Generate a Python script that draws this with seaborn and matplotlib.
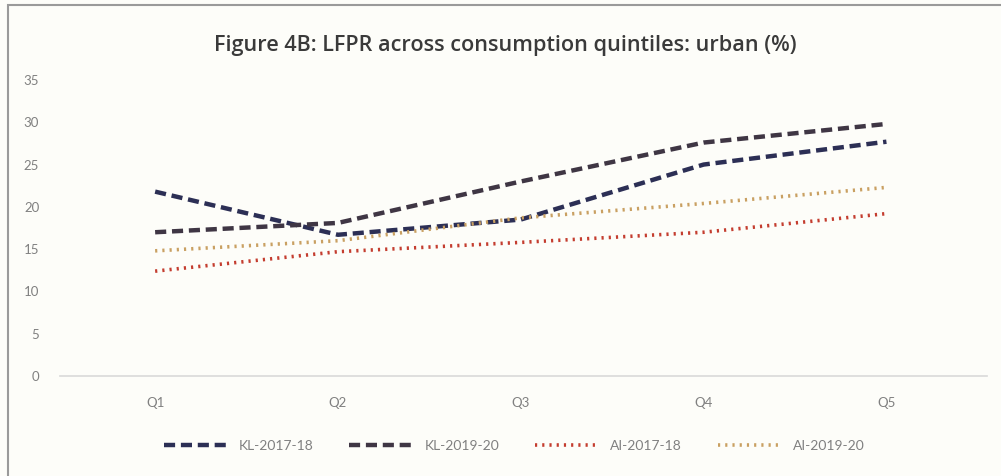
import pandas as pd
import numpy as np
import matplotlib
matplotlib.use('Agg')
import matplotlib.pyplot as plt
import seaborn as sns
from matplotlib.patches import Rectangle

# Data
quintiles = ['Q1', 'Q2', 'Q3', 'Q4', 'Q5']
kl_2017 = [21.8, 16.7, 18.5, 25.0, 27.7]
kl_2019 = [17.0, 18.1, 23.0, 27.6, 29.8]
ai_2017 = [12.4, 14.7, 15.8, 17.0, 19.2]
ai_2019 = [14.8, 16.0, 18.7, 20.4, 22.3]
series_names = ['KL-2017-18', 'KL-2019-20', 'AI-2017-18', 'AI-2019-20']

df = pd.DataFrame({
    'Quintile': quintiles * 4,
    'Value': kl_2017 + kl_2019 + ai_2017 + ai_2019,
    'Series': np.repeat(series_names, len(quintiles)),
})

colors = {'KL-2017-18': '#2c2f55', 'KL-2019-20': '#3f3644',
          'AI-2017-18': '#c43d2f', 'AI-2019-20': '#c9a062'}

sns.set_style('white')
plt.rcParams['font.family'] = ['Lato', 'DejaVu Sans']

fig = plt.figure(figsize=(10.01, 4.76), dpi=100)
fig.patch.set_facecolor('#fdfdf9')
ax = fig.add_axes([0.06, 0.21, 0.926, 0.622])
ax.set_facecolor('#fdfdf9')

for name in series_names:
    sub = df[df['Series'] == name]
    if name.startswith('KL'):
        ls = (0, (2.5, 1.3))
        lw = 3.2
    else:
        ls = (0, (0.6, 1.4))
        lw = 2.6
    sns.lineplot(data=sub, x='Quintile', y='Value', ax=ax, color=colors[name],
                 linestyle=ls, linewidth=lw, label=name, sort=False)
for line in ax.get_lines():
    line.set_dash_capstyle('butt')

ax.set_xlim(-0.52, 4.55)
ax.set_ylim(0, 35)
ax.set_yticks(range(0, 36, 5))
ax.set_xlabel('')
ax.set_ylabel('')
for s in ['top', 'right', 'left']:
    ax.spines[s].set_visible(False)
ax.spines['bottom'].set_color('#d9d9d9')
ax.spines['bottom'].set_linewidth(1.2)
ax.tick_params(axis='both', length=0, labelsize=9.5, labelcolor='#808080')
ax.tick_params(axis='y', pad=15)
ax.tick_params(axis='x', pad=15)

fig.text(0.505, 0.905, 'Figure 4B: LFPR across consumption quintiles: urban (%)',
         ha='center', va='center', fontsize=15.6, fontweight='semibold', color='#3a3a3a',
         family=['Open Sans', 'DejaVu Sans'])

ax.legend(loc='center', bbox_to_anchor=(0.49, -0.235), ncol=4, frameon=False,
          fontsize=10, labelcolor='#808080', handlelength=4.6, handletextpad=0.8,
          columnspacing=2.6)

fig.patches.append(Rectangle((0.008, -0.01), 1.2, 1.0, transform=fig.transFigure,
                             fill=False, edgecolor='#9a9a9a', linewidth=1.5))

fig.savefig('out.png', dpi=100, facecolor=fig.get_facecolor())
